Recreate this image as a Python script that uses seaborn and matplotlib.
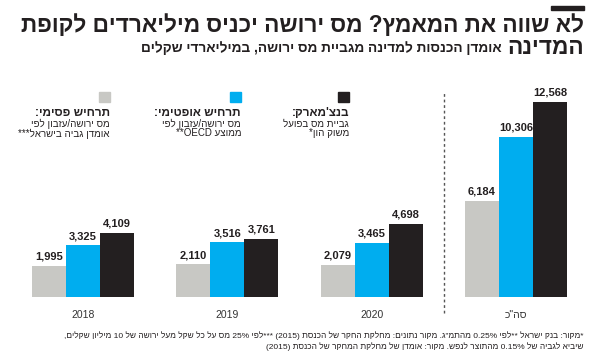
import re
import pandas as pd
import seaborn as sns
import matplotlib
matplotlib.use('Agg')
import matplotlib.pyplot as plt
from matplotlib.patches import Rectangle

# נתונים
periods = ['2018', '2019', '2020', 'סה"כ']
pessimistic = [1995, 2110, 2079, 6184]
optimistic = [3325, 3516, 3465, 10306]
benchmark = [4109, 3761, 4698, 12568]
scenario_names = ['pessimistic', 'optimistic', 'benchmark']
colors = ['#c8c8c4', '#00adef', '#231f20']

title1 = 'לא שווה את המאמץ? מס ירושה יכניס מיליארדים לקופת'
title2 = 'המדינה'
subtitle = 'אומדן הכנסות למדינה מגביית מס ירושה, במיליארדי שקלים'
legend_heads = ['תרחיש פסימי:', 'תרחיש אופטימי:', "בנצ'מארק:"]
legend_lines = [['מס ירושה/עזבון לפי', 'אומדן גביה בישראל***'],
                ['מס ירושה/עזבון לפי', 'ממוצע OECD**'],
                ['גביית מס בפועל', 'משוק הון*']]
notes = ['*מקור: בנק ישראל **לפי 0.25% מהתמ"ג. מקור נתונים: מחלקת החקר של הכנסת (2015) ***לפי 25% מס על כל שקל מעל ירושה של 10 מיליון שקלים,',
         'שיביא לגביה של 0.15% מהתוצר לנפש. מקור: אומדן של מחלקת המחקר של הכנסת (2015)']


def rtl(s):
    # matplotlib has no bidi - reverse hebrew, keep number/latin runs
    toks = re.findall(r'[A-Za-z0-9]+(?:[.,][0-9]+)*%?|.', s)
    mirror = {'(': ')', ')': '('}
    return ''.join(mirror.get(t, t) for t in reversed(toks))


sns.set_style('white')
plt.rcParams['font.family'] = ['Liberation Sans', 'DejaVu Sans']

W, H = 590, 356
fig = plt.figure(figsize=(W / 100, H / 100), dpi=100)


def fx(x):
    return x / W


def fy(y):
    return 1 - y / H


df = pd.DataFrame({
    'period': periods * 3,
    'scenario': sum([[n] * len(periods) for n in scenario_names], []),
    'value': pessimistic + optimistic + benchmark,
})

ymax = 13000
px_per_unit = 0.01555
ax_h = ymax * px_per_unit
ax = fig.add_axes([fx(11), (H - 297) / H, 577 / W, ax_h / H])
sns.barplot(data=df, x='period', y='value', hue='scenario', hue_order=scenario_names,
            palette=colors, saturation=1, width=0.708, linewidth=0, legend=False, ax=ax)
ax.set_xlim(-0.5, 3.5)
ax.set_ylim(0, ymax)
for c in ax.containers:
    ax.bar_label(c, labels=[f'{v:,.0f}' for v in c.datavalues], padding=3,
                 fontsize=8, fontweight='bold', color='#231f20')
ax.set_xticks(range(len(periods)))
ax.set_xticklabels([rtl(p) for p in periods], fontsize=7.5, color='#333333')
ax.tick_params(axis='x', length=0, pad=9)
ax.set_yticks([])
ax.set_xlabel('')
ax.set_ylabel('')
sns.despine(ax=ax, left=True, bottom=True)
ax.axvline(2.5, ymin=-16 / ax_h, ymax=(297 - 92) / ax_h, color='#555555', lw=1,
           ls=(0, (2, 2)), clip_on=False)

# כותרות
fig.patches.append(Rectangle((fx(551), fy(10)), 33 / W, 4 / H, transform=fig.transFigure,
                             color='#231f20'))
fig.text(fx(584), fy(25), rtl(title1), ha='right', va='center', fontsize=16.3,
         fontweight='bold', color='#231f20')
t2 = fig.text(fx(584), fy(47), rtl(title2), ha='right', va='center', fontsize=16.3,
              fontweight='bold', color='#231f20')
fig.canvas.draw()
x_sub = t2.get_window_extent().x0 - 6
fig.text(x_sub / W, fy(48), rtl(subtitle), ha='right', va='center', fontsize=9.8,
         fontweight='bold', color='#231f20')

# מקרא
sq_right = [110, 241, 349]
for xr, col, head, lines in zip(sq_right, colors, legend_heads, legend_lines):
    fig.patches.append(Rectangle((fx(xr - 11), fy(102)), 11 / W, 10 / H,
                                 transform=fig.transFigure, color=col))
    fig.text(fx(xr), fy(113), rtl(head), ha='right', va='center', fontsize=8.5,
             fontweight='bold', color='#231f20')
    for i, ln in enumerate(lines):
        fig.text(fx(xr), fy(123.5 + 10 * i), rtl(ln), ha='right', va='center',
                 fontsize=7, color='#231f20')

for i, n in enumerate(notes):
    fig.text(fx(584), fy(336 + 11 * i), rtl(n), ha='right', va='center', fontsize=6,
             color='#231f20')

fig.savefig('out.png', dpi=100)
